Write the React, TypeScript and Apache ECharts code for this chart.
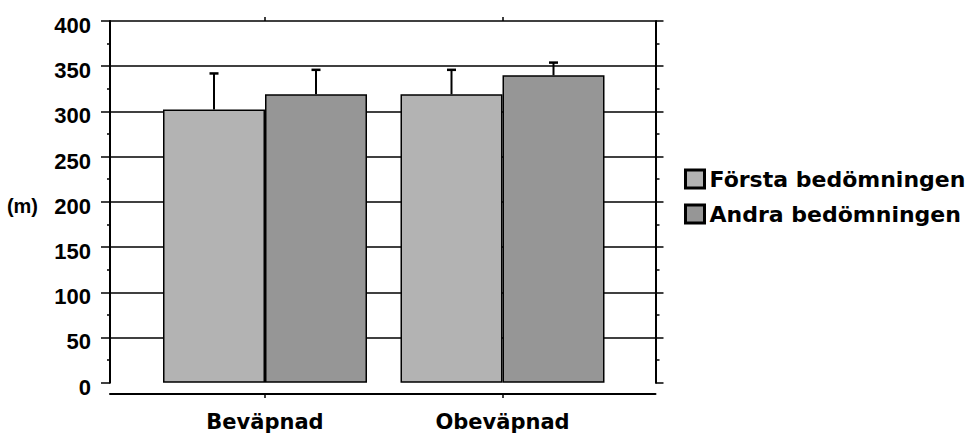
import React, { useEffect, useRef } from 'react';
import * as echarts from 'echarts';

// Mean distance per assessment, with upward error bars
const categories = ['Beväpnad', 'Obeväpnad'];
const seriesNames = ['Första bedömningen', 'Andra bedömningen'];
const firstValues = [302, 319];
const secondValues = [319, 340];
const firstErrors = [40, 27];
const secondErrors = [27, 14];
const yTicks = [0, 50, 100, 150, 200, 250, 300, 350, 400];
const yAxisTitle = '(m)';

const BAR_WIDTH = 102;
const LIGHT = '#b3b3b3';
const DARK = '#969696';

const labelFont = { fontFamily: 'DejaVu Sans', fontWeight: 'bold' as const, color: '#000' };
const tickFont = { fontFamily: 'Liberation Sans', fontWeight: 'bold' as const, color: '#000' };

function errorSeries(name: string, values: number[], errors: number[], offset: number) {
  return {
    name,
    type: 'custom',
    xAxisIndex: 1,
    yAxisIndex: 2,
    z: 3,
    data: categories.map((_, i) => [i, values[i], errors[i]]),
    renderItem: (_params: any, api: any) => {
      const cat = api.value(0);
      const v = api.value(1);
      const e = api.value(2);
      const base = api.coord([cat, v]);
      const top = api.coord([cat, v + e]);
      const x = base[0] + offset;
      return {
        type: 'group',
        children: [
          { type: 'line', shape: { x1: x, y1: base[1], x2: x, y2: top[1] }, style: { stroke: '#000', lineWidth: 2 } },
          { type: 'line', shape: { x1: x - 4.5, y1: top[1], x2: x + 4.5, y2: top[1] }, style: { stroke: '#000', lineWidth: 2.5 } },
        ],
      };
    },
  };
}

export default function App() {
  const ref = useRef<HTMLDivElement>(null);

  useEffect(() => {
    if (!ref.current) return;
    const chart = echarts.init(ref.current, undefined, { renderer: 'svg' });
    const yMin = yTicks[0];
    const yMax = yTicks[yTicks.length - 1];
    const yStep = yTicks[1] - yTicks[0];

    const option = {
      animation: false,
      backgroundColor: '#fff',
      grid: [
        { left: 110, right: 314.5, top: 21, bottom: 51.3 },
        { left: 146.25, right: 348.75, top: 21, bottom: 51.3 },
      ],
      legend: {
        data: seriesNames,
        orient: 'vertical',
        left: 684,
        top: 168,
        padding: 0,
        itemWidth: 19,
        itemHeight: 18,
        itemGap: 13,
        icon: 'rect',
        itemStyle: { borderColor: '#000', borderWidth: 3 },
        textStyle: { ...labelFont, fontSize: 22, lineHeight: 21 },
      },
      xAxis: [
        {
          gridIndex: 0,
          type: 'value',
          min: 0,
          max: 1,
          position: 'bottom',
          offset: 11.3,
          axisLine: { show: true, onZero: false, lineStyle: { color: '#000', width: 2 } },
          axisTick: { show: false },
          axisLabel: { show: false },
          splitLine: { show: false },
        },
        {
          gridIndex: 1,
          type: 'category',
          data: categories,
          position: 'bottom',
          offset: 11.3,
          axisLine: { show: false, onZero: false },
          axisTick: { show: true, alignWithLabel: true, length: 4, lineStyle: { color: '#000', width: 1.5 } },
          axisLabel: { ...labelFont, fontSize: 21, lineHeight: 21, margin: 17 },
        },
        {
          gridIndex: 1,
          type: 'category',
          data: categories,
          position: 'top',
          axisLine: { show: false, onZero: false },
          axisTick: { show: true, alignWithLabel: true, length: 4, lineStyle: { color: '#000', width: 1.5 } },
          axisLabel: { show: false },
        },
      ],
      yAxis: [
        {
          gridIndex: 0,
          type: 'value',
          position: 'left',
          min: yMin,
          max: yMax,
          interval: yStep,
          name: yAxisTitle,
          nameLocation: 'middle',
          nameRotate: 0,
          nameGap: 72,
          nameTextStyle: {
            ...tickFont,
            fontSize: 20,
            align: 'right',
            verticalAlign: 'top',
            lineHeight: 9,
          },
          axisLine: { show: true, onZero: false, lineStyle: { color: '#000', width: 2 } },
          axisTick: { show: true, length: 9, lineStyle: { color: '#000', width: 1.5 } },
          minorTick: { show: true, splitNumber: 2, length: 3, lineStyle: { color: '#000', width: 1.5 } },
          axisLabel: { ...tickFont, fontSize: 22, margin: 19, verticalAlign: 'top', lineHeight: 9 },
          splitLine: { show: true, showMinLine: false, lineStyle: { color: '#000', width: 1.5 } },
        },
        {
          gridIndex: 0,
          type: 'value',
          position: 'right',
          min: yMin,
          max: yMax,
          interval: yStep,
          axisLine: { show: true, onZero: false, lineStyle: { color: '#000', width: 2 } },
          axisTick: { show: true, length: 8, lineStyle: { color: '#000', width: 1.5 } },
          minorTick: { show: true, splitNumber: 2, length: 4, lineStyle: { color: '#000', width: 1.5 } },
          axisLabel: { show: false },
          splitLine: { show: false },
        },
        {
          gridIndex: 1,
          type: 'value',
          min: yMin,
          max: yMax,
          interval: yStep,
          show: false,
        },
      ],
      series: [
        {
          name: seriesNames[0],
          type: 'bar',
          xAxisIndex: 1,
          yAxisIndex: 2,
          barWidth: BAR_WIDTH,
          barGap: '0%',
          data: firstValues,
          itemStyle: { color: LIGHT, borderColor: '#000', borderWidth: 1.5 },
        },
        {
          name: seriesNames[1],
          type: 'bar',
          xAxisIndex: 1,
          yAxisIndex: 2,
          barWidth: BAR_WIDTH,
          barGap: '0%',
          data: secondValues,
          itemStyle: { color: DARK, borderColor: '#000', borderWidth: 1.5 },
        },
        errorSeries('err-first', firstValues, firstErrors, -BAR_WIDTH / 2),
        errorSeries('err-second', secondValues, secondErrors, BAR_WIDTH / 2),
      ],
    };

    chart.setOption(option as any);
    return () => chart.dispose();
  }, []);

  return (
    <div
      ref={ref}
      style={{ position: 'absolute', left: 0, top: 0, width: 970, height: 434, background: '#fff' }}
    />
  );
}
